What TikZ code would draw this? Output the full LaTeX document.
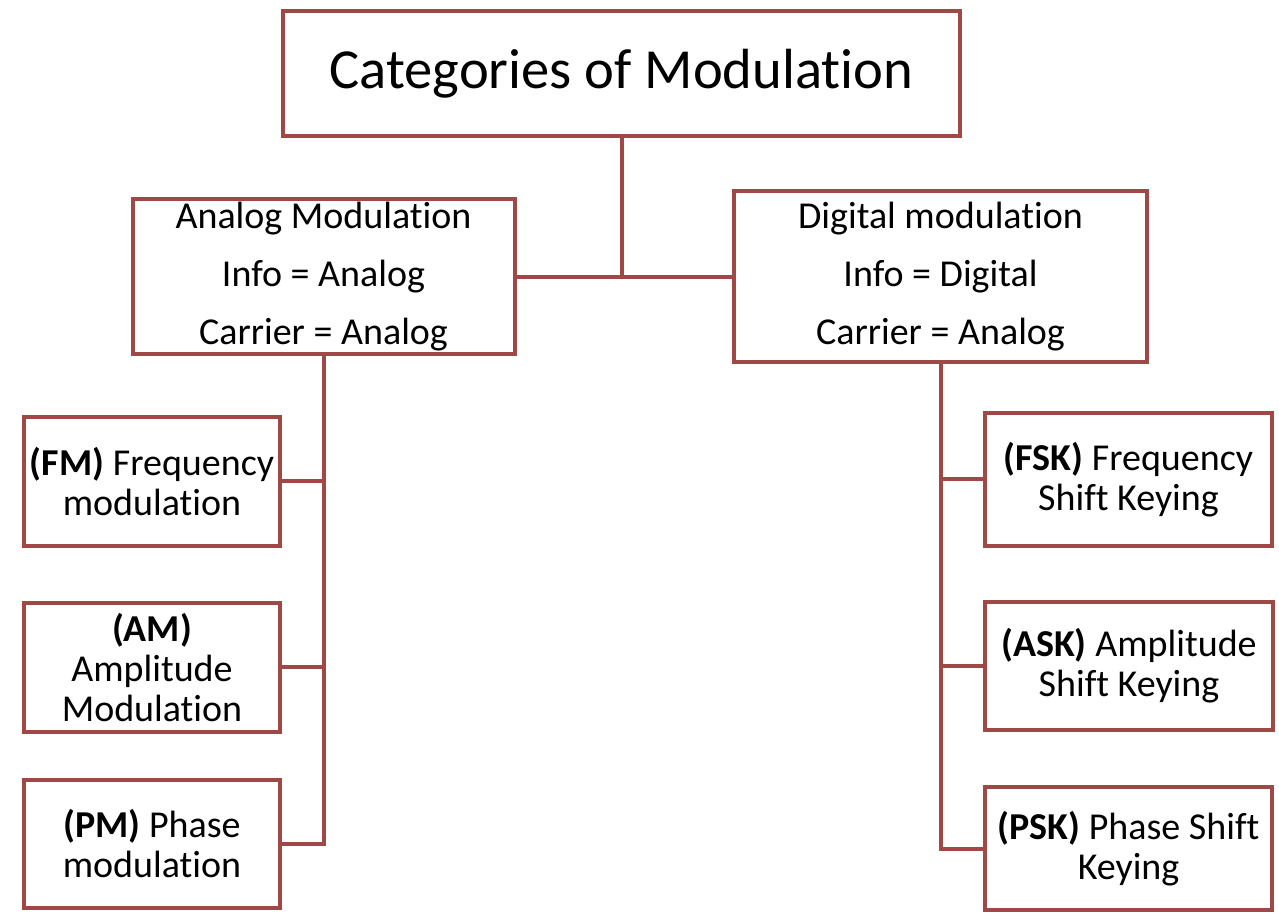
\documentclass[tikz,border=0pt]{standalone}
\usepackage{fontspec}
\setmainfont[Ligatures={NoCommon,NoRequired,NoContextual},RawFeature={-clig;-dlig;-hlig}]{Carlito}
\usetikzlibrary{positioning}
\definecolor{boxred}{RGB}{160,72,70}

\begin{document}
\begin{tikzpicture}[x=0.5pt,y=-0.5pt,
    box/.style={draw=boxred, line width=2pt, align=center, inner sep=0pt,
                font=\fontsize{19}{20}\selectfont},
    midbox/.style={box, font=\fontsize{19}{29}\selectfont},
    link/.style={draw=boxred, line width=2pt}]
    \useasboundingbox (0,0) rectangle (1279,913);

    % Top box
    \node[box, minimum width=338.5pt, minimum height=62.5pt,
          font=\fontsize{28.3}{30}\selectfont] (cat) at (621.5,73.5) {Categories of Modulation};

    % Second level
    \node[midbox, minimum width=191pt, minimum height=77.5pt] (analog) at (323.5,277)
        {Analog Modulation\\Info = Analog\\Carrier = Analog};
    \node[midbox, minimum width=206.5pt, minimum height=85.5pt] (digital) at (940.5,277)
        {Digital modulation\\Info = Digital\\Carrier = Analog};

    % Analog leaves
    \node[box, minimum width=128pt, minimum height=64.5pt] (fm) at (152,481.5)
        {\textbf{(FM)} Frequency\\modulation};
    \node[box, minimum width=128pt, minimum height=64.5pt] (am) at (152,667.5)
        {\textbf{(AM)}\\Amplitude\\Modulation};
    \node[box, minimum width=128pt, minimum height=64pt] (pm) at (152,844)
        {\textbf{(PM)} Phase\\modulation};

    % Digital leaves
    \node[box, minimum width=143.5pt, minimum height=66.5pt] (fsk) at (1128.5,479.5)
        {\textbf{(FSK)} Frequency\\Shift Keying};
    \node[box, minimum width=144pt, minimum height=64pt] (ask) at (1129,666)
        {\textbf{(ASK)} Amplitude\\Shift Keying};
    \node[box, minimum width=143.5pt, minimum height=61.5pt] (psk) at (1128.5,848.5)
        {\textbf{(PSK)} Phase Shift\\Keying};

    % Connectors
    \draw[link] (cat.south) -- (cat.south |- analog.east);
    \draw[link] (analog.east) -- (digital.west);
    \draw[link] (analog.south) |- (pm.east);
    \foreach \n in {fm,am}
        \draw[link] (\n.east) -- (\n.east -| analog.south);
    \draw[link] (digital.south) |- (psk.west);
    \foreach \n in {fsk,ask}
        \draw[link] (\n.west) -- (\n.west -| digital.south);
\end{tikzpicture}
\end{document}
